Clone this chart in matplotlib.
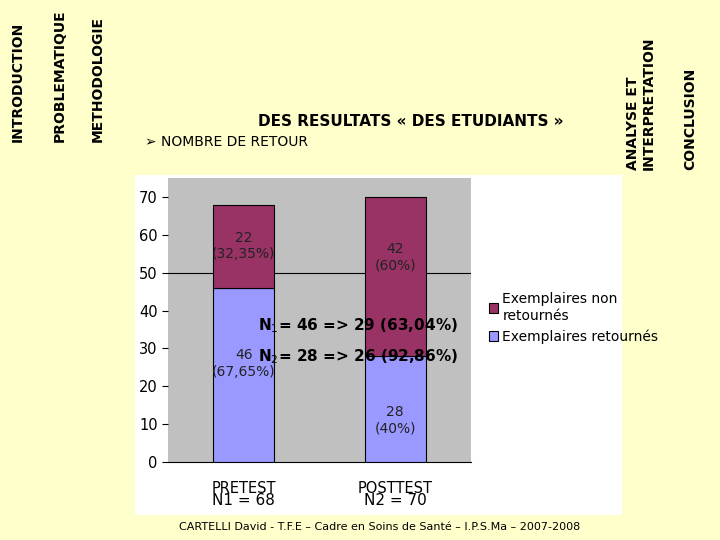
import matplotlib.pyplot as plt
from matplotlib.patches import Rectangle

categories = ["PRETEST", "POSTTEST"]
retournes = [46, 28]
non_retournes = [22, 42]
lab_ret = ["46\n(67,65%)", "28\n(40%)"]
lab_non = ["22\n(32,35%)", "42\n(60%)"]
n_labels = ["N1 = 68", "N2 = 70"]
yticks = [0, 10, 20, 30, 40, 50, 60, 70]

W, H = 720, 540
fig = plt.figure(figsize=(7.2, 5.4), dpi=100)
fig.patch.set_facecolor("#FFFFCC")
def fx(x): return x / W
def fy(y): return 1 - y / H

bg = fig.add_axes([0, 0, 1, 1], zorder=-5)
bg.set_axis_off()
bg.set_xlim(0, W); bg.set_ylim(H, 0)
bg.add_patch(Rectangle((135, 175), 622 - 135, 340, facecolor="white", edgecolor="none"))

ax = fig.add_axes([fx(168), fy(462), fx(471) - fx(168), fy(178) - fy(462)], zorder=1)
ax.set_facecolor("#C0C0C0")
x = range(len(categories))
ax.bar(x, retournes, width=0.4, color="#9999FF", edgecolor="black", linewidth=0.8,
       label="Exemplaires retournés", zorder=3)
ax.bar(x, non_retournes, bottom=retournes, width=0.4, color="#993366", edgecolor="black",
       linewidth=0.8, label="Exemplaires non\nretournés", zorder=3)
ax.axhline(50, color="black", linewidth=0.8, zorder=1)
ax.set_xlim(-0.5, 1.5)
ax.set_ylim(0, 75)
ax.set_yticks(yticks)
ax.set_xticks(list(x))
ax.set_xticklabels(categories, fontsize=10.5)
ax.tick_params(axis="x", length=0, pad=14)
ax.tick_params(axis="y", length=4, labelsize=10.5)
for s in ["top", "right", "left"]:
    ax.spines[s].set_visible(False)
for i in x:
    ax.text(i, retournes[i] / 2 + (3 if i == 0 else -3), lab_ret[i], ha="center", va="center",
            fontsize=10, color="#222222", zorder=4)
    ax.text(i, retournes[i] + non_retournes[i] / 2 + (5 if i == 1 else 0), lab_non[i], ha="center",
            va="center", fontsize=10, color="#222222", zorder=4)
    ax.text(i, -10.2, n_labels[i], ha="center", va="center", fontsize=11)

h, l = ax.get_legend_handles_labels()
fig.legend(h[::-1], l[::-1], loc="upper left", bbox_to_anchor=(fx(476), fy(280)), frameon=False,
           fontsize=10, handlelength=0.7, handleheight=0.7, handletextpad=0.3, labelspacing=0.5)

fig.text(fx(258), fy(326), "N$_1$= 46 => 29 (63,04%)", fontsize=11, fontweight="bold", va="center", zorder=5)
fig.text(fx(258), fy(357), "N$_2$= 28 => 26 (92,86%)", fontsize=11, fontweight="bold", va="center", zorder=5)

fig.text(fx(258), fy(121), "DES RESULTATS « DES ETUDIANTS »", fontsize=11, fontweight="bold", va="center")
fig.text(fx(145), fy(142), "➢ NOMBRE DE RETOUR", fontsize=10, va="center")
fig.text(fx(380), fy(527), "CARTELLI David - T.F.E – Cadre en Soins de Santé – I.P.S.Ma – 2007-2008",
         fontsize=8, ha="center", va="center")

for xx, t in [(18, "INTRODUCTION"), (60, "PROBLEMATIQUE"), (98, "METHODOLOGIE")]:
    fig.text(fx(xx), fy(142), t, rotation=90, fontsize=10, fontweight="bold", ha="center", va="bottom")
fig.text(fx(641), fy(170), "ANALYSE ET\nINTERPRETATION", rotation=90, fontsize=10, fontweight="bold",
         ha="center", va="bottom", multialignment="left")
fig.text(fx(690), fy(170), "CONCLUSION", rotation=90, fontsize=10, fontweight="bold", ha="center", va="bottom")

fig.savefig("out.png", dpi=100, facecolor=fig.get_facecolor())
